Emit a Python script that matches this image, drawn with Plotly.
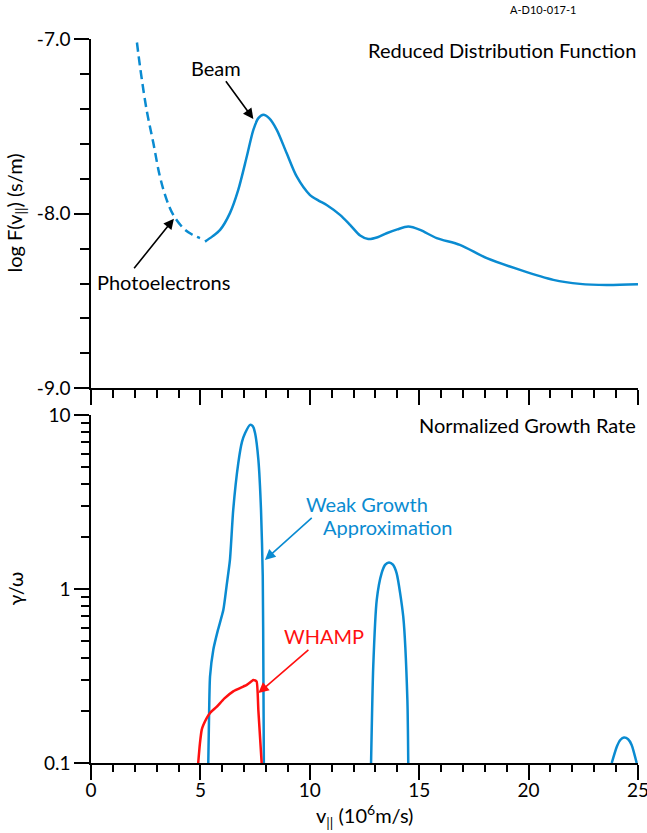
import plotly.graph_objects as go

# ---- Data ----
photo_v = [2.10, 2.24, 2.54, 2.85, 3.15, 3.46, 3.76, 4.22, 4.60, 4.98]
photo_f = [-7.02, -7.157, -7.405, -7.596, -7.787, -7.921, -8.007, -8.083, -8.118, -8.14]

beam_v = [5.21, 5.55, 5.90, 6.35, 6.73, 7.12, 7.42, 7.65, 7.88, 8.15, 8.49, 8.94, 9.40, 10.0,
          10.40, 10.77, 11.38, 11.84, 12.30, 12.67, 13.10, 13.51, 14.00, 14.50, 15.04, 15.80,
          16.86, 18.09, 19.61, 21.13, 22.35, 23.57, 25.0]
beam_f = [-8.16, -8.13, -8.093, -7.997, -7.864, -7.673, -7.52, -7.453, -7.434, -7.455, -7.52,
          -7.653, -7.787, -7.892, -7.925, -7.95, -8.007, -8.064, -8.125, -8.145, -8.135, -8.112,
          -8.09, -8.074, -8.093, -8.14, -8.179, -8.255, -8.322, -8.379, -8.402, -8.408, -8.404]

wga_v = [5.36, 5.40, 5.44, 5.59, 5.80, 6.05, 6.20, 6.35, 6.50, 6.73, 6.90, 7.04, 7.27, 7.40,
         7.50, 7.65, 7.77, 7.85, 7.88, 7.90]
wga_g = [0.10, 0.20, 0.314, 0.448, 0.58, 0.759, 1.05, 1.47, 2.85, 5.27, 7.0, 7.85, 8.77, 8.6,
         7.85, 5.52, 2.85, 1.18, 0.314, 0.10]

wga2_v = [12.80, 12.90, 13.06, 13.28, 13.45, 13.62, 13.80, 13.97, 14.27, 14.46, 14.50]
wga2_g = [0.10, 0.359, 0.867, 1.23, 1.38, 1.42, 1.38, 1.23, 0.695, 0.231, 0.10]

wga3_v = [23.80, 24.03, 24.20, 24.36, 24.55, 24.71, 24.94]
wga3_g = [0.10, 0.124, 0.136, 0.140, 0.137, 0.127, 0.10]

whamp_v = [4.90, 4.98, 5.06, 5.13, 5.44, 5.74, 6.10, 6.50, 6.96, 7.12, 7.34, 7.42, 7.50, 7.57, 7.65, 7.80]
whamp_g = [0.10, 0.13, 0.155, 0.165, 0.194, 0.21, 0.235, 0.258, 0.275, 0.281, 0.295, 0.30, 0.298, 0.294, 0.20, 0.10]

top_ticks = [-9.0, -8.0, -7.0]
top_ticktext = ["-9.0", "-8.0", "-7.0"]
bot_ticks = [0.1, 1, 10]
bot_ticktext = ["0.1", "1", "10"]
x_ticks = [0, 5, 10, 15, 20, 25]
bot_minor = [0.2, 0.3, 0.4, 0.5, 0.6, 0.7, 0.8, 0.9, 2, 3, 4, 5, 6, 7, 8, 9]

BLUE = "#0A8BD1"
RED = "#FF1010"
FONT = "Lato"
TS = 20   # annotation text size
TK = 19   # tick label size

fig = go.Figure()
fig.add_trace(go.Scatter(x=photo_v, y=photo_f, mode="lines", line=dict(color=BLUE, width=2.5, dash="9px,5px", shape="spline"),
                         xaxis="x", yaxis="y", showlegend=False))
fig.add_trace(go.Scatter(x=beam_v, y=beam_f, mode="lines", line=dict(color=BLUE, width=2.5, shape="spline", smoothing=0.8),
                         xaxis="x", yaxis="y", showlegend=False))
for vv, gg, col in [(wga_v, wga_g, BLUE), (wga2_v, wga2_g, BLUE), (wga3_v, wga3_g, BLUE), (whamp_v, whamp_g, RED)]:
    fig.add_trace(go.Scatter(x=vv, y=gg, mode="lines", line=dict(color=col, width=2.5, shape="spline", smoothing=0.6),
                             xaxis="x2", yaxis="y2", showlegend=False))

axis_common = dict(showline=True, linecolor="black", linewidth=1.5, ticks="outside", tickcolor="black",
                   tickwidth=1.5, showgrid=False, zeroline=False, mirror=False, ticklabeloverflow="allow",
                   automargin=False)

fig.update_layout(
    width=647, height=833, autosize=False,
    margin=dict(l=91, r=9, t=39, b=70),
    paper_bgcolor="white", plot_bgcolor="white",
    font=dict(family=FONT, size=TS, color="black"),
    xaxis=dict(domain=[0, 1], range=[0, 25], anchor="y", tickvals=x_ticks, showticklabels=False, ticklen=15,
               minor=dict(dtick=1, ticklen=8, ticks="outside", tickcolor="black", tickwidth=1.5), **axis_common),
    yaxis=dict(domain=[0.5175, 1.0], range=[-9, -7], anchor="x", tickvals=top_ticks, ticktext=top_ticktext, ticklen=15,
               minor=dict(dtick=0.2, tick0=-9, ticklen=9, ticks="outside", tickcolor="black", tickwidth=1.5),
               tickfont=dict(size=TK), **axis_common),
    xaxis2=dict(domain=[0, 1], range=[0, 25], anchor="y2", tickvals=x_ticks, ticklen=15, ticklabelstandoff=-6,
                minor=dict(dtick=1, ticklen=7, ticks="outside", tickcolor="black", tickwidth=1.5),
                tickfont=dict(size=TK), **axis_common),
    yaxis2=dict(domain=[0, 0.4807], type="log", range=[-1, 1], anchor="x2", tickvals=bot_ticks, ticktext=bot_ticktext, ticklen=15,
                minor=dict(tickvals=bot_minor, ticklen=8, ticks="outside", tickcolor="black", tickwidth=1.5),
                tickfont=dict(size=TK), **axis_common),
)

arrow = dict(showarrow=True, arrowhead=2, arrowsize=1.3, arrowwidth=1.6, axref="pixel", ayref="pixel")
annotations = [
    # labels with arrows
    dict(x=7.42, y=-7.458, xref="x", yref="y", ax=-37.3, ay=-51.3, text="Beam", arrowcolor="black", **arrow),
    dict(x=7.65, y=-0.598, xref="x2", yref="y2", ax=65.7, ay=-56.6, text="WHAMP", arrowcolor=RED,
         font=dict(size=TS, color=RED), **arrow),
    # stand-alone arrows
    dict(x=3.79, y=-8.029, xref="x", yref="y", ax=-41, ay=51, text="", arrowcolor="black", **arrow),
    dict(x=7.95, y=0.167, xref="x2", yref="y2", ax=48.3, ay=-43.3, text="", arrowcolor=BLUE, **arrow),
    # labels
    dict(x=3.31, y=-8.39, xref="x", yref="y", text="Photoelectrons", showarrow=False),
    dict(x=12.6, y=0.487, xref="x2", yref="y2", text="Weak Growth", showarrow=False, font=dict(size=TS, color=BLUE)),
    dict(x=13.59, y=0.359, xref="x2", yref="y2", text="Approximation", showarrow=False, font=dict(size=TS, color=BLUE)),
    dict(x=25, y=-7.061, xref="x", yref="y", xanchor="right", yanchor="middle", text="Reduced Distribution Function",
         showarrow=False),
    dict(x=25, y=0.943, xref="x2", yref="y2", xanchor="right", yanchor="middle", text="Normalized Growth Rate",
         showarrow=False),
    dict(x=0.826, y=1.041, xref="paper", yref="paper", xanchor="center", yanchor="middle", text="A-D10-017-1",
         showarrow=False, font=dict(size=11)),
    # axis titles
    dict(x=-0.138, y=0.7597, xref="paper", yref="paper", xanchor="center", yanchor="middle",
         text="log F(v<sub>||</sub>) (s/m)", textangle=-90, showarrow=False),
    dict(x=-0.138, y=0.2403, xref="paper", yref="paper", xanchor="center", yanchor="middle",
         text="γ/ω", textangle=-90, showarrow=False, font=dict(size=20)),
    dict(x=0.5, y=-0.073, xref="paper", yref="paper", xanchor="center", yanchor="middle",
         text="v<sub>||</sub> (10<sup>6</sup>m/s)", showarrow=False),
]
fig.update_layout(annotations=annotations)

fig.write_html("out.html")
